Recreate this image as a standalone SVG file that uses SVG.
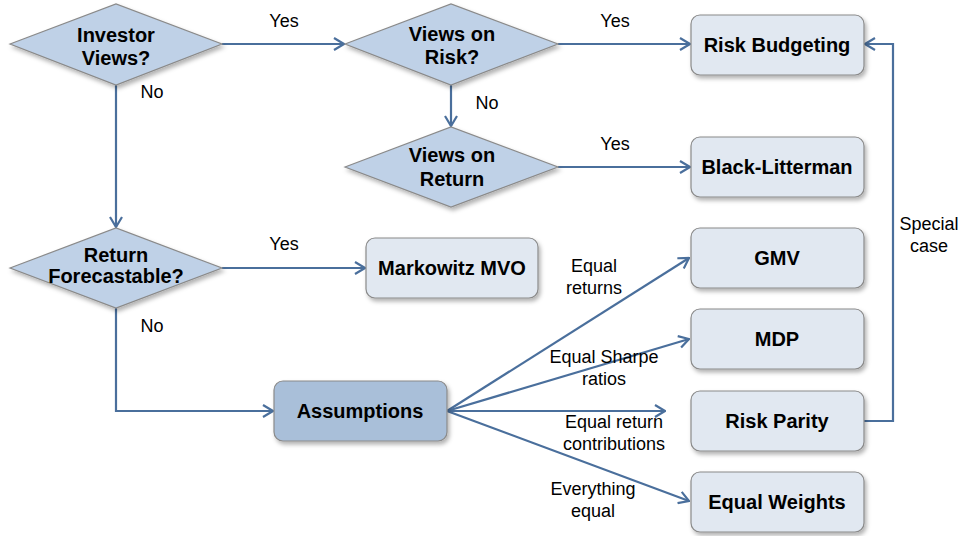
<svg xmlns="http://www.w3.org/2000/svg" width="959" height="536" viewBox="0 0 959 536">
<defs>
<filter id="sh" x="-10%" y="-10%" width="130%" height="140%">
<feDropShadow dx="2" dy="3" stdDeviation="2" flood-color="#000" flood-opacity="0.3"/>
</filter>
<marker id="arr" markerWidth="12" markerHeight="14" refX="11" refY="7" orient="auto" markerUnits="userSpaceOnUse">
<path d="M1,1 L11,7 L1,13" fill="none" stroke="#4a6f9c" stroke-width="2.2"/>
</marker>
</defs>
<style>
.dia{fill:#bfd1e7;stroke:#8a8a8a;stroke-width:1.2;filter:url(#sh)}
.box{fill:#e1e8f1;stroke:#8a8a8a;stroke-width:1.2;filter:url(#sh)}
.box2{fill:#a9bfd9;stroke:#8a8a8a;stroke-width:1.2;filter:url(#sh)}
.nt{font-family:"Liberation Sans",Arial,sans-serif;font-weight:bold;font-size:20px;fill:#000;text-anchor:middle}
.lb{font-family:"Liberation Sans",Arial,sans-serif;font-size:18px;fill:#000;text-anchor:middle}
.c{fill:none;stroke:#4a6f9c;stroke-width:2.2}
</style>
<g id="connectors">
<path class="c" d="M222,44 H344" marker-end="url(#arr)"/>
<path class="c" d="M558,44 H690" marker-end="url(#arr)"/>
<path class="c" d="M451,85 V126" marker-end="url(#arr)"/>
<path class="c" d="M558,167 H690" marker-end="url(#arr)"/>
<path class="c" d="M116,85 V227" marker-end="url(#arr)"/>
<path class="c" d="M222,268 H365" marker-end="url(#arr)"/>
<path class="c" d="M116,308 V411 H273" marker-end="url(#arr)"/>
<path class="c" d="M447,411 L689,258" marker-end="url(#arr)"/>
<path class="c" d="M447,411 L689,339" marker-end="url(#arr)"/>
<path class="c" d="M447,411 H665" marker-end="url(#arr)"/>
<path class="c" d="M447,411 L689,501" marker-end="url(#arr)"/>
<path class="c" d="M864,421 H893 V44 H865" marker-end="url(#arr)"/>
<text class="lb" x="284" y="27">Yes</text>
<text class="lb" x="152" y="98">No</text>
<text class="lb" x="615" y="27">Yes</text>
<text class="lb" x="487" y="109">No</text>
<text class="lb" x="615" y="150">Yes</text>
<text class="lb" x="284" y="250">Yes</text>
<text class="lb" x="152" y="332">No</text>
<text class="lb" x="594" y="272">Equal</text>
<text class="lb" x="594" y="294">returns</text>
<text class="lb" x="604" y="363">Equal Sharpe</text>
<text class="lb" x="604" y="385">ratios</text>
<text class="lb" x="614" y="428">Equal return</text>
<text class="lb" x="614" y="450">contributions</text>
<text class="lb" x="593" y="495">Everything</text>
<text class="lb" x="593" y="517">equal</text>
<text class="lb" x="929" y="230">Special</text>
<text class="lb" x="929" y="252">case</text>
</g>
<g id="investor-views">
<polygon class="dia" points="10,44 116,4 222,44 116,85"/>
<text class="nt" x="116" y="42">Investor</text>
<text class="nt" x="116" y="65">Views?</text>
</g>
<g id="views-risk">
<polygon class="dia" points="345,44 451,4 558,44 451,85"/>
<text class="nt" x="452" y="41">Views on</text>
<text class="nt" x="452" y="64">Risk?</text>
</g>
<g id="views-return">
<polygon class="dia" points="345,167 451,127 558,167 451,207"/>
<text class="nt" x="452" y="162">Views on</text>
<text class="nt" x="452" y="186">Return</text>
</g>
<g id="return-forecastable">
<polygon class="dia" points="10,268 116,228 222,268 116,308"/>
<text class="nt" x="116" y="262">Return</text>
<text class="nt" x="116" y="283">Forecastable?</text>
</g>
<g id="risk-budgeting">
<rect class="box" x="691" y="15" width="173" height="60" rx="9"/>
<text class="nt" x="777" y="52">Risk Budgeting</text>
</g>
<g id="black-litterman">
<rect class="box" x="691" y="137" width="173" height="60" rx="9"/>
<text class="nt" x="777" y="174">Black-Litterman</text>
</g>
<g id="gmv">
<rect class="box" x="691" y="228" width="173" height="60" rx="9"/>
<text class="nt" x="777" y="265">GMV</text>
</g>
<g id="mdp">
<rect class="box" x="691" y="309" width="173" height="60" rx="9"/>
<text class="nt" x="777" y="346">MDP</text>
</g>
<g id="risk-parity">
<rect class="box" x="691" y="391" width="173" height="60" rx="9"/>
<text class="nt" x="777" y="428">Risk Parity</text>
</g>
<g id="equal-weights">
<rect class="box" x="691" y="472" width="173" height="60" rx="9"/>
<text class="nt" x="777" y="509">Equal Weights</text>
</g>
<g id="markowitz">
<rect class="box" x="366" y="238" width="172" height="60" rx="9"/>
<text class="nt" x="452" y="275">Markowitz MVO</text>
</g>
<g id="assumptions">
<rect class="box2" x="274" y="381" width="173" height="60" rx="9"/>
<text class="nt" x="360" y="418">Assumptions</text>
</g>
</svg>
